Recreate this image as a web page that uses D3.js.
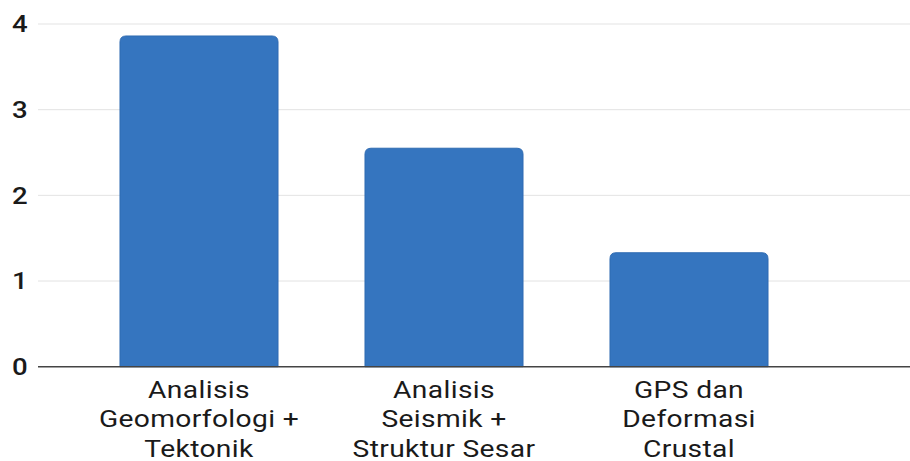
<!DOCTYPE html>
<html>
<head>
<meta charset="utf-8">
<script src="https://cdn.jsdelivr.net/npm/d3@7"></script>
<style>
  html, body { margin: 0; padding: 0; background: #fff; }
  svg { display: block; font-family: Roboto, "Noto Sans", sans-serif; }
</style>
</head>
<body>
<svg id="chart" width="910" height="461"></svg>
<script>
// Category labels (each entry is a list of lines) and their values
const categories = [
  ["Analisis", "Geomorfologi +", "Tektonik"],
  ["Analisis", "Seismik +", "Struktur Sesar"],
  ["GPS dan", "Deformasi", "Crustal"]
];
const values = [3.86, 2.55, 1.33];
const yTicks = [0, 1, 2, 3, 4];

const svg = d3.select("#chart");
const gridLeft = 38, gridRight = 910;
const y0 = 366.7, yTop = 24;
const stretch = 1.2; // wide lettering

const x = d3.scaleBand()
  .domain(d3.range(categories.length))
  .range([76.5, 811.5])
  .paddingInner(0.355)
  .paddingOuter(0.1775);

const y = d3.scaleLinear().domain([0, 4]).range([y0, yTop]);

// Horizontal gridlines
svg.append("g")
  .selectAll("line")
  .data(yTicks.filter(d => d > 0))
  .join("line")
  .attr("x1", gridLeft).attr("x2", gridRight)
  .attr("y1", d => y(d)).attr("y2", d => y(d))
  .attr("stroke", "#e3e3e3").attr("stroke-width", 1);

// Y tick labels
svg.append("g")
  .selectAll("text")
  .data(yTicks)
  .join("text")
  .attr("transform", d => `translate(12,${y(d)}) scale(${stretch},1)`)
  .attr("dy", "0.36em")
  .attr("font-size", 23)
  .attr("font-weight", 500)
  .attr("fill", "#1a1a1a")
  .text(d => d);

// Bars with rounded top corners
const r = 6;
function barPath(i) {
  const x0 = x(i), w = x.bandwidth();
  const yt = y(values[i]), yb = y(0);
  return `M${x0},${yb}V${yt + r}Q${x0},${yt} ${x0 + r},${yt}` +
         `H${x0 + w - r}Q${x0 + w},${yt} ${x0 + w},${yt + r}V${yb}Z`;
}
svg.append("g")
  .selectAll("path")
  .data(values)
  .join("path")
  .attr("d", (d, i) => barPath(i))
  .attr("fill", "#3575bf")
  .attr("stroke", "#2f6bb2")
  .attr("stroke-width", 1);

// Baseline axis
svg.append("line")
  .attr("x1", gridLeft).attr("x2", gridRight)
  .attr("y1", y(0)).attr("y2", y(0))
  .attr("stroke", "#444").attr("stroke-width", 1.5);

// Category labels
const lab = svg.append("g")
  .selectAll("text")
  .data(categories)
  .join("text")
  .attr("transform", (d, i) => `translate(${x(i) + x.bandwidth() / 2},0) scale(${stretch},1)`)
  .attr("text-anchor", "middle")
  .attr("font-size", 23.5)
  .attr("letter-spacing", 0.3)
  .attr("fill", "#1a1a1a");
lab.selectAll("tspan")
  .data(d => d)
  .join("tspan")
  .attr("x", 0)
  .attr("y", (d, j) => 398 + j * 29.5)
  .text(d => d);
</script>
</body>
</html>
